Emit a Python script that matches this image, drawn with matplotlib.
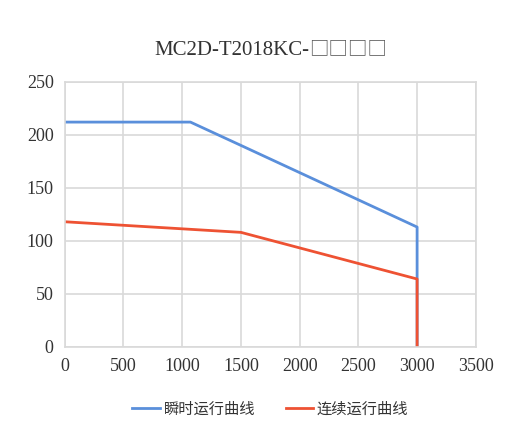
import matplotlib.pyplot as plt

plt.rcParams['font.family'] = ['Liberation Serif', 'DejaVu Sans']

# Data
peak_speed = [0, 1070, 1500, 3000, 3000]
peak_torque = [212, 212, 190, 113, 0]
cont_speed = [0, 1500, 3000, 3000]
cont_torque = [118, 108, 64, 0]
title_model = "MC2D-T2018KC-"
title_boxes = "□□□□"
labels = ["瞬时运行曲线", "连续运行曲线"]

fig = plt.figure(figsize=(5.1, 4.47), dpi=100)
ax = fig.add_axes([0.127, 0.224, 0.806, 0.593])

ax.plot(peak_speed, peak_torque, color="#5A8FDB", lw=2, label=labels[0])
ax.plot(cont_speed, cont_torque, color="#EE5233", lw=2, label=labels[1])

ax.set_xlim(0, 3500)
ax.set_ylim(0, 250)
ax.set_xticks(range(0, 3501, 500))
ax.set_yticks(range(0, 251, 50))
ax.grid(True, color="#d9d9d9", lw=1.2)
ax.set_axisbelow(True)
for s in ax.spines.values():
    s.set_color("#d9d9d9")
    s.set_linewidth(1.2)
ax.tick_params(length=0, labelsize=13, colors="#333333", pad=8)

# title in two parts so the boxes get the full-width glyph
fig.text(0.606, 0.888, title_model, ha="right", va="center", fontsize=15, color="#333333")
fig.text(0.606, 0.890, title_boxes, ha="left", va="center", fontsize=14, color="#555555",
         family=['Noto Sans CJK SC'])

leg = ax.legend(loc="upper center", bbox_to_anchor=(0.5, -0.15), ncol=2, frameon=False,
                prop={'family': ['Noto Sans CJK SC'], 'size': 11},
                handlelength=1.8, columnspacing=2.0, handletextpad=0.25)
for t in leg.get_texts():
    t.set_color("#333333")

fig.savefig("out.png", dpi=100)
